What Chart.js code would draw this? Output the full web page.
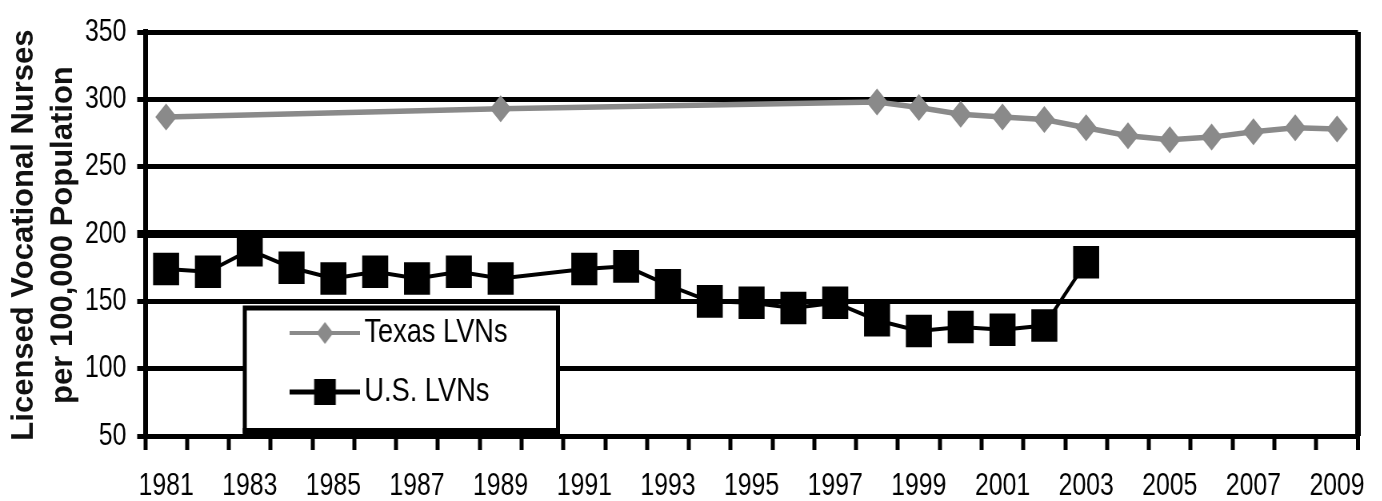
<!DOCTYPE html>
<html>
<head>
<meta charset="utf-8">
<script src="https://cdn.jsdelivr.net/npm/chart.js@4.4.1/dist/chart.umd.min.js"></script>
<style>
  html, body { margin: 0; padding: 0; background: #fff; overflow: hidden; width: 1382px; height: 501px; }
  /* the chart is laid out on a wider canvas and squeezed horizontally */
  #wrap { position: absolute; left: 0; top: 0; width: 1728px; height: 501px; transform: scaleX(0.8); transform-origin: 0 0; }
  canvas { display: block; }
</style>
</head>
<body>
<div id="wrap"><canvas id="lvn" width="1728" height="501"></canvas></div>
<script>
// ---- data ----
const years = ['1981','1982','1983','1984','1985','1986','1987','1988','1989','1990',
               '1991','1992','1993','1994','1995','1996','1997','1998','1999','2000',
               '2001','2002','2003','2004','2005','2006','2007','2008','2009'];

const texasLVNs = [287, null, null, null, null, null, null, null, 293, null,
                   null, null, null, null, null, null, null, 298, 294, 289,
                   287, 285, 279, 273, 270, 272, 276, 279, 278];

const usLVNs = [174, 172, 188, 175, 167, 172, 167, 172, 167, null,
                174, 176, 162, 150, 149, 145, 149, 136, 128, 131,
                129, 132, 179, null, null, null, null, null, null];

const seriesNames = ['Texas LVNs', 'U.S. LVNs'];
const yTickValues = [50, 100, 150, 200, 250, 300, 350];
const axisTitleLines = ['Licensed Vocational Nurses', 'per 100,000 Population'];

// ---- drawing ----
const SQUEEZE = 0.8;               // horizontal scale applied by the wrapper
const FONT = '"Liberation Sans", Arial, Helvetica, sans-serif';
const TX_GRAY = '#8a8a8a';
Chart.defaults.font.family = FONT;
Chart.defaults.color = '#000';

// legend swatches: a short line with the series marker in the middle
function makeSwatch(kind) {
  const c = document.createElement('canvas');
  c.width = 88; c.height = 34;
  const g = c.getContext('2d');
  const cy = c.height / 2, cx = c.width / 2;
  if (kind === 'diamond') {
    g.strokeStyle = TX_GRAY; g.lineWidth = 4;
    g.beginPath(); g.moveTo(0, cy); g.lineTo(c.width, cy); g.stroke();
    g.fillStyle = TX_GRAY;
    g.beginPath();
    g.moveTo(cx - 10.5, cy); g.lineTo(cx, cy - 11); g.lineTo(cx + 10.5, cy); g.lineTo(cx, cy + 11);
    g.closePath(); g.fill();
  } else {
    g.strokeStyle = '#000'; g.lineWidth = 5;
    g.beginPath(); g.moveTo(0, cy); g.lineTo(c.width, cy); g.stroke();
    g.fillStyle = '#000';
    g.fillRect(cx - 13.5, cy - 13, 27, 26);
  }
  return c;
}
const swatches = [makeSwatch('diamond'), makeSwatch('square')];

const LEGEND_BOX = { left: 306, top: 308, right: 697.5, bottom: 431 };

// places the legend inside the plot and frames it with a white box
const legendFrame = {
  id: 'legendFrame',
  afterLayout(chart) {
    const lg = chart.legend;
    lg.left = 349; lg.top = 291;
    lg.right = lg.left + 500; lg.bottom = 2000;
    lg.width = 500; lg.height = 2000 - lg.top;
  },
  afterDatasetsDraw(chart) {
    const ctx = chart.ctx, b = LEGEND_BOX;
    ctx.save();
    ctx.fillStyle = '#fff';
    ctx.fillRect(b.left, b.top, b.right - b.left, b.bottom - b.top);
    ctx.strokeStyle = '#000';
    ctx.lineWidth = 5;
    ctx.strokeRect(b.left, b.top, b.right - b.left, b.bottom - b.top);
    ctx.fillStyle = '#000';
    ctx.fillRect(b.left - 2.5, b.bottom - 3, b.right - b.left + 5, 7);
    ctx.restore();
    chart.legend.draw();
  }
};

// rotated two-line axis title, drawn in unsqueezed proportions
const yAxisTitle = {
  id: 'yAxisTitle',
  afterDraw(chart) {
    const ctx = chart.ctx;
    const cy = (chart.chartArea.top + chart.chartArea.bottom) / 2 + 1;
    const baselines = [33, 72];
    ctx.save();
    ctx.scale(1 / SQUEEZE, 1);
    ctx.font = 'bold 31px ' + FONT;
    ctx.fillStyle = '#111';
    ctx.textAlign = 'center';
    ctx.textBaseline = 'alphabetic';
    axisTitleLines.forEach((txt, i) => {
      ctx.save();
      ctx.translate(baselines[i], cy);
      ctx.rotate(-Math.PI / 2);
      ctx.fillText(txt, 0, 0);
      ctx.restore();
    });
    ctx.restore();
  }
};

new Chart(document.getElementById('lvn'), {
  type: 'line',
  data: {
    labels: years,
    datasets: [
      {
        label: seriesNames[0],
        data: texasLVNs,
        borderColor: TX_GRAY,
        backgroundColor: TX_GRAY,
        borderWidth: 5.5,
        tension: 0,
        spanGaps: true,
        pointStyle: 'rectRot',
        pointRadius: 13.5,
        pointBackgroundColor: TX_GRAY,
        pointBorderWidth: 0
      },
      {
        label: seriesNames[1],
        data: usLVNs,
        borderColor: '#000',
        backgroundColor: '#000',
        borderWidth: 4,
        tension: 0,
        spanGaps: true,
        pointStyle: 'rect',
        pointRadius: 23,
        pointBackgroundColor: '#000',
        pointBorderWidth: 0
      }
    ]
  },
  options: {
    responsive: false,
    animation: false,
    events: [],
    layout: { padding: { top: 25, right: 30.5, bottom: 0, left: 0 } },
    plugins: {
      tooltip: { enabled: false },
      title: { display: false },
      legend: {
        display: true,
        position: 'chartArea',
        align: 'start',
        fullSize: false,
        labels: {
          usePointStyle: true,
          pointStyleWidth: 64.5,
          padding: 25,
          color: '#000',
          font: { size: 34 },
          generateLabels(chart) {
            const items = Chart.defaults.plugins.legend.labels.generateLabels(chart);
            items.forEach((it, i) => { it.pointStyle = swatches[i]; it.fontColor = '#000'; });
            return items;
          }
        }
      }
    },
    scales: {
      x: {
        type: 'category',
        offset: true,
        grid: {
          offset: true,
          drawOnChartArea: true,
          drawTicks: true,
          color: (c) => c.type === 'scale' ? '#000' : 'rgba(0,0,0,0)',
          lineWidth: (c) => c.type === 'scale' ? 7 : 0,
          tickColor: '#000',
          tickWidth: 5,
          tickLength: 14
        },
        border: { display: false },
        ticks: {
          autoSkip: false,
          maxRotation: 0,
          minRotation: 0,
          padding: 18,
          color: '#000',
          font: { size: 31 },
          callback: (v, i) => (i % 2 === 0 ? years[i] : '')
        },
        afterFit(s) { s.height = 65; }
      },
      y: {
        min: yTickValues[0],
        max: yTickValues[yTickValues.length - 1],
        ticks: {
          stepSize: 50,
          padding: 13.5,
          color: '#000',
          font: { size: 31 }
        },
        grid: {
          color: '#000',
          lineWidth: (c) => (c.tick && c.tick.value === 200 ? 8 : 5),
          drawTicks: true,
          tickLength: 10
        },
        border: { display: true, color: '#000', width: 6 },
        afterFit(s) { s.width = 181.5; }
      }
    }
  },
  plugins: [legendFrame, yAxisTitle]
});
</script>
</body>
</html>
